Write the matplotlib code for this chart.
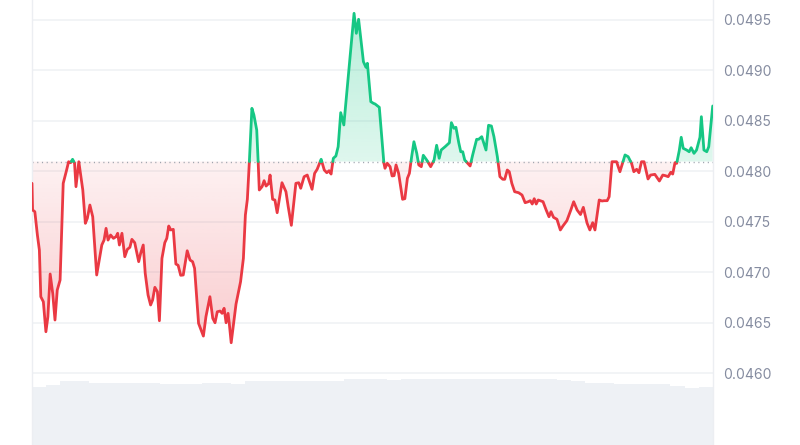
import numpy as np
import matplotlib
matplotlib.use("Agg")
import matplotlib.pyplot as plt
from matplotlib.path import Path

# ---------------- data ----------------
hours = [0.00, 0.02, 0.10, 0.19, 0.26, 0.31, 0.40, 0.49, 0.56, 0.64, 0.73, 0.81, 0.89, 0.99,
         1.10, 1.22, 1.29, 1.36, 1.43, 1.50, 1.55, 1.65, 1.79, 1.88, 1.95, 2.04, 2.14, 2.28,
         2.37, 2.46, 2.54, 2.61, 2.68, 2.77, 2.87, 2.96, 3.02, 3.08, 3.17, 3.27, 3.36, 3.45,
         3.52, 3.62, 3.76, 3.83, 3.92, 3.99, 4.09, 4.18, 4.25, 4.33, 4.42, 4.49, 4.58, 4.68,
         4.75, 4.82, 4.89, 4.98, 5.07, 5.15, 5.24, 5.33, 5.47, 5.57, 5.66, 5.73, 5.87, 6.04,
         6.13, 6.27, 6.37, 6.45, 6.53, 6.63, 6.70, 6.77, 6.84, 6.91, 6.95, 7.02, 7.19, 7.35,
         7.45, 7.52, 7.59, 7.66, 7.75, 7.82, 7.92, 7.97, 8.01, 8.11, 8.18, 8.25, 8.34, 8.39,
         8.48, 8.56, 8.64, 8.81, 8.95, 9.03, 9.14, 9.30, 9.40, 9.47, 9.59, 9.70, 9.87, 9.96,
         10.05, 10.19, 10.30, 10.39, 10.47, 10.54, 10.62, 10.71, 10.79, 10.88, 10.99, 11.16,
         11.35, 11.43, 11.51, 11.68, 11.77, 11.82, 11.94, 12.03, 12.09, 12.24, 12.40, 12.44,
         12.52, 12.62, 12.69, 12.76, 12.83, 12.92, 13.06, 13.14, 13.23, 13.30, 13.38, 13.46,
         13.56, 13.63, 13.72, 13.79, 13.91, 14.05, 14.17, 14.26, 14.35, 14.42, 14.56, 14.71,
         14.78, 14.87, 14.94, 15.04, 15.11, 15.18, 15.25, 15.44, 15.53, 15.67, 15.74, 15.85,
         16.00, 16.09, 16.19, 16.28, 16.40, 16.49, 16.59, 16.66, 16.75, 16.82, 16.91, 17.01,
         17.15, 17.27, 17.38, 17.49, 17.56, 17.63, 17.70, 17.77, 17.84, 18.01, 18.12, 18.22,
         18.29, 18.38, 18.50, 18.62, 18.71, 18.85, 18.99, 19.09, 19.21, 19.33, 19.43, 19.56,
         19.66, 19.76, 19.84, 19.99, 20.09, 20.16, 20.27, 20.34, 20.44, 20.60, 20.72, 20.90,
         21.01, 21.13, 21.21, 21.31, 21.39, 21.48, 21.57, 21.71, 21.80, 21.95, 22.11, 22.23,
         22.32, 22.42, 22.51, 22.58, 22.66, 22.72, 22.81, 22.88, 22.95, 23.07, 23.16, 23.23,
         23.33, 23.42, 23.54, 23.59, 23.68, 23.78, 23.85, 23.99]

price = [0.047882, 0.047618, 0.047601, 0.047370, 0.047221, 0.046759, 0.046709, 0.046412,
         0.046561, 0.046984, 0.046792, 0.046528, 0.046825, 0.046924, 0.047882, 0.048014,
         0.048096, 0.048086, 0.048120, 0.048080, 0.047849, 0.048096, 0.047816, 0.047486,
         0.047535, 0.047667, 0.047551, 0.046974, 0.047122, 0.047271, 0.047320, 0.047436,
         0.047320, 0.047370, 0.047337, 0.047353, 0.047387, 0.047271, 0.047387, 0.047155,
         0.047228, 0.047248, 0.047327, 0.047294, 0.047106, 0.047189, 0.047271, 0.046991,
         0.046776, 0.046677, 0.046726, 0.046852, 0.046808, 0.046521, 0.047139, 0.047294,
         0.047337, 0.047459, 0.047420, 0.047426, 0.047083, 0.047070, 0.046971, 0.046974,
         0.047214, 0.047122, 0.047106, 0.047040, 0.046495, 0.046369, 0.046561, 0.046759,
         0.046545, 0.046501, 0.046610, 0.046617, 0.046594, 0.046644, 0.046501, 0.046594,
         0.046501, 0.046303, 0.046686, 0.046907, 0.047139, 0.047568, 0.047724, 0.048096,
         0.048625, 0.048559, 0.048410, 0.048096, 0.047816, 0.047850, 0.047908, 0.047855,
         0.047880, 0.047964, 0.047724, 0.047717, 0.047591, 0.047888, 0.047799, 0.047650,
         0.047466, 0.047882, 0.047888, 0.047833, 0.047948, 0.047964, 0.047823, 0.047981,
         0.048021, 0.048120, 0.048014, 0.047987, 0.048007, 0.047974, 0.048130, 0.048153,
         0.048245, 0.048582, 0.048460, 0.048988, 0.049566, 0.049368, 0.049507, 0.049087,
         0.049031, 0.049071, 0.048691, 0.048675, 0.048668, 0.048635, 0.048086, 0.048031,
         0.048080, 0.048047, 0.047955, 0.047958, 0.048064, 0.047981, 0.047724, 0.047730,
         0.047932, 0.047981, 0.048146, 0.048294, 0.048179, 0.048064, 0.048047, 0.048160,
         0.048113, 0.048047, 0.048113, 0.048259, 0.048130, 0.048212, 0.048245, 0.048284,
         0.048483, 0.048427, 0.048437, 0.048284, 0.048195, 0.048195, 0.048113, 0.048054,
         0.048163, 0.048318, 0.048318, 0.048344, 0.048212, 0.048457, 0.048450, 0.048344,
         0.048146, 0.047948, 0.047922, 0.047922, 0.048014, 0.047997, 0.047882, 0.047799,
         0.047789, 0.047766, 0.047690, 0.047700, 0.047710, 0.047677, 0.047730, 0.047677,
         0.047717, 0.047700, 0.047618, 0.047551, 0.047601, 0.047545, 0.047526, 0.047420,
         0.047459, 0.047512, 0.047618, 0.047700, 0.047618, 0.047573, 0.047644, 0.047489,
         0.047420, 0.047492, 0.047420, 0.047717, 0.047707, 0.047710, 0.047710, 0.047749,
         0.048096, 0.048096, 0.047997, 0.048163, 0.048146, 0.048080, 0.047997, 0.048021,
         0.047987, 0.048096, 0.048096, 0.047925, 0.047964, 0.047971, 0.047905, 0.047964,
         0.047958, 0.047948, 0.047991, 0.047974, 0.048086, 0.048080, 0.048205, 0.048338,
         0.048229, 0.048212, 0.048195, 0.048235, 0.048179, 0.048212, 0.048338, 0.048542,
         0.048212, 0.048195, 0.048245, 0.048648]

base_price = 0.048098

vol_hours = [0.25 + 0.5 * i for i in range(48)]
volume_m = [5.8, 6.0, 6.4, 6.4, 6.23, 6.23, 6.23, 6.23, 6.23, 6.1, 6.1, 6.1, 6.23, 6.2, 6.15,
            6.4, 6.4, 6.4, 6.4, 6.4, 6.4, 6.4, 6.6, 6.6, 6.6, 6.55, 6.6, 6.6, 6.6, 6.6, 6.6,
            6.6, 6.6, 6.6, 6.6, 6.57, 6.57, 6.5, 6.4, 6.23, 6.23, 6.1, 6.1, 6.07, 6.07, 5.9,
            5.7, 5.85]

yticks = [0.0460, 0.0465, 0.0470, 0.0475, 0.0480, 0.0485, 0.0490, 0.0495]

GREEN = "#16c784"
RED = "#ea3943"
GRID = "#eff1f4"

# ---------------- figure ----------------
fig = plt.figure(figsize=(8, 4.45), dpi=100)
rect = [32 / 800, 0, 681 / 800, 1]

axv = fig.add_axes(rect, zorder=0)
axv.bar(vol_hours, volume_m, width=0.5, color="#eef1f5", linewidth=0)
axv.set_xlim(0, 24)
axv.set_ylim(0, 44.5)
axv.axis("off")

ax = fig.add_axes(rect, zorder=1, facecolor="none")

t = np.asarray(hours, float)
p = np.asarray(price, float)

# insert baseline crossings so colours switch exactly at the baseline
tt, pp = [t[0]], [p[0]]
for i in range(1, len(t)):
    a, b = p[i - 1] - base_price, p[i] - base_price
    if a * b < 0:
        f = a / (a - b)
        tt.append(t[i - 1] + f * (t[i] - t[i - 1]))
        pp.append(base_price)
    tt.append(t[i])
    pp.append(p[i])
tt = np.array(tt)
pp = np.array(pp)

pmin, pmax = pp.min(), pp.max()


def gradient_fill(mask, lo, hi, color, a_lo, a_hi):
    coll = ax.fill_between(tt, pp, base_price, where=mask, facecolor="none",
                           edgecolor="none", interpolate=False)
    paths = coll.get_paths()
    if not paths:
        return
    cpath = Path.make_compound_path(*paths)
    rgb = matplotlib.colors.to_rgb(color)
    n = 256
    img = np.zeros((n, 1, 4))
    img[:, 0, :3] = rgb
    img[:, 0, 3] = np.linspace(a_lo, a_hi, n)
    im = ax.imshow(img, extent=[0, 24, lo, hi], aspect="auto", origin="lower",
                   interpolation="bilinear", zorder=1)
    im.set_clip_path(cpath, ax.transData)


gradient_fill(pp >= base_price, base_price, pmax, GREEN, 0.14, 0.30)
gradient_fill(pp <= base_price, pmin, base_price, RED, 0.26, 0.07)

up = np.where(pp >= base_price, pp, np.nan)
dn = np.where(pp <= base_price, pp, np.nan)
ax.plot(tt, dn, color=RED, lw=2.0, solid_joinstyle="round", solid_capstyle="round", zorder=3)
ax.plot(tt, up, color=GREEN, lw=2.0, solid_joinstyle="round", solid_capstyle="round", zorder=3)

ax.axhline(base_price, color="#9ea4ae", lw=1.0, ls=(0, (0.8, 2.6)), zorder=2)

ax.set_xlim(0, 24)
ax.set_ylim(0.045290, 0.049698)

ax.yaxis.tick_right()
ax.set_yticks(yticks)
ax.set_yticklabels([f"{v:.4f}" for v in yticks])
ax.tick_params(axis="y", length=0, pad=7, labelsize=10, labelcolor="#858ca0")
for lab in ax.get_yticklabels():
    lab.set_family(["Inter", "DejaVu Sans"])
ax.set_xticks([])
ax.grid(axis="y", color=GRID, lw=1.1, zorder=0)
ax.set_axisbelow(True)
for s in ("top", "bottom"):
    ax.spines[s].set_visible(False)
for s in ("left", "right"):
    ax.spines[s].set_color("#eceef2")
    ax.spines[s].set_linewidth(1.0)

fig.savefig("out.png", dpi=100, facecolor="white")
